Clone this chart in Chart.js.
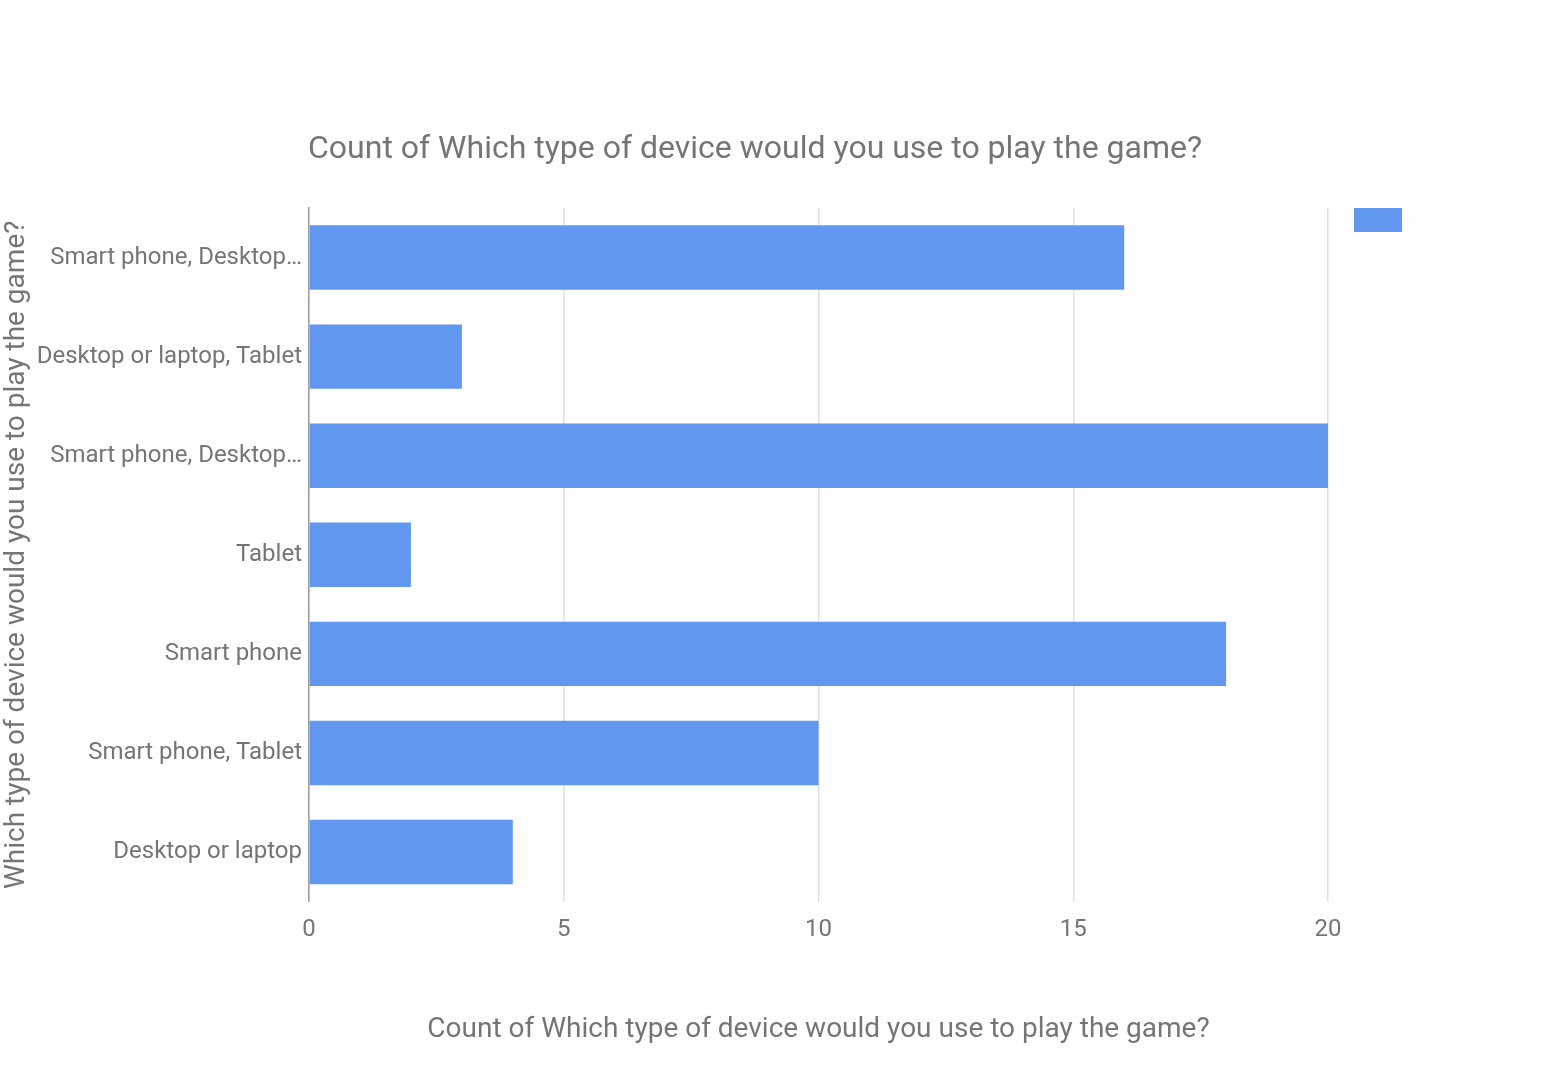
<!DOCTYPE html>
<html>
<head>
<meta charset="utf-8">
<script src="https://cdn.jsdelivr.net/npm/chart.js@4"></script>
<style>
  body { margin: 0; background: #fff; }
  #wrap { width: 1568px; height: 1080px; }
</style>
</head>
<body>
<div id="wrap"><canvas id="chart" width="1568" height="1080"></canvas></div>
<script>
// data
const categories = [
  "Smart phone, Desktop…",
  "Desktop or laptop, Tablet",
  "Smart phone, Desktop…",
  "Tablet",
  "Smart phone",
  "Smart phone, Tablet",
  "Desktop or laptop"
];
const counts = [16, 3, 20, 2, 18, 10, 4];
const xTicks = [0, 5, 10, 15, 20];

const chartTitle = "Count of Which type of device would you use to play the game?";
const xTitle = "Count of Which type of device would you use to play the game?";
const yTitle = "Which type of device would you use to play the game?";

const grey = "#757575";
const font = "Roboto";

// title sits on the left edge of the plot area, not the canvas
const titleAtPlot = {
  id: "titleAtPlot",
  afterDraw(chart) {
    const ctx = chart.ctx;
    ctx.save();
    ctx.font = "32px " + font;
    ctx.fillStyle = grey;
    ctx.textAlign = "left";
    ctx.textBaseline = "middle";
    ctx.fillText(chartTitle, chart.chartArea.left - 1, 150);
    ctx.restore();
  }
};

new Chart(document.getElementById("chart"), {
  type: "bar",
  data: {
    labels: categories,
    datasets: [{
      label: "",
      data: counts,
      backgroundColor: "#6297f0",
      barPercentage: 0.65,
      categoryPercentage: 1
    }]
  },
  options: {
    indexAxis: "y",
    responsive: false,
    animation: false,
    layout: { padding: { top: 208, bottom: 33, left: 0, right: 146 } },
    plugins: {
      title: { display: false },
      tooltip: { enabled: false },
      legend: {
        position: "right",
        align: "start",
        labels: { boxWidth: 48, boxHeight: 24, padding: 0, font: { family: font, size: 20 } }
      }
    },
    scales: {
      x: {
        min: 0,
        max: 20,
        afterBuildTicks: s => { s.ticks = xTicks.map(v => ({ value: v })); },
        grid: { color: "#e0e0e0", lineWidth: 1.5, drawTicks: false },
        border: { display: false },
        ticks: { color: grey, padding: 14, font: { family: font, size: 24 } },
        title: {
          display: true, text: xTitle, color: grey,
          font: { family: font, size: 28 }, padding: { top: 55, bottom: 0 }
        }
      },
      y: {
        grid: { display: false, drawTicks: false },
        border: { display: true, color: "#9e9e9e", width: 1.5 },
        ticks: { color: grey, padding: 7, font: { family: font, size: 24 } },
        title: {
          display: true, text: yTitle, color: grey,
          font: { family: font, size: 28 }, padding: { top: 0, bottom: 4 }
        },
        afterFit: s => { s.width = 309; }
      },
      // empty spacer between plot and legend
      gap: {
        type: "linear",
        position: "right",
        display: true,
        grid: { display: false },
        border: { display: false },
        ticks: { display: false },
        afterFit: s => { s.width = 26; }
      }
    }
  },
  plugins: [titleAtPlot]
});
</script>
</body>
</html>
